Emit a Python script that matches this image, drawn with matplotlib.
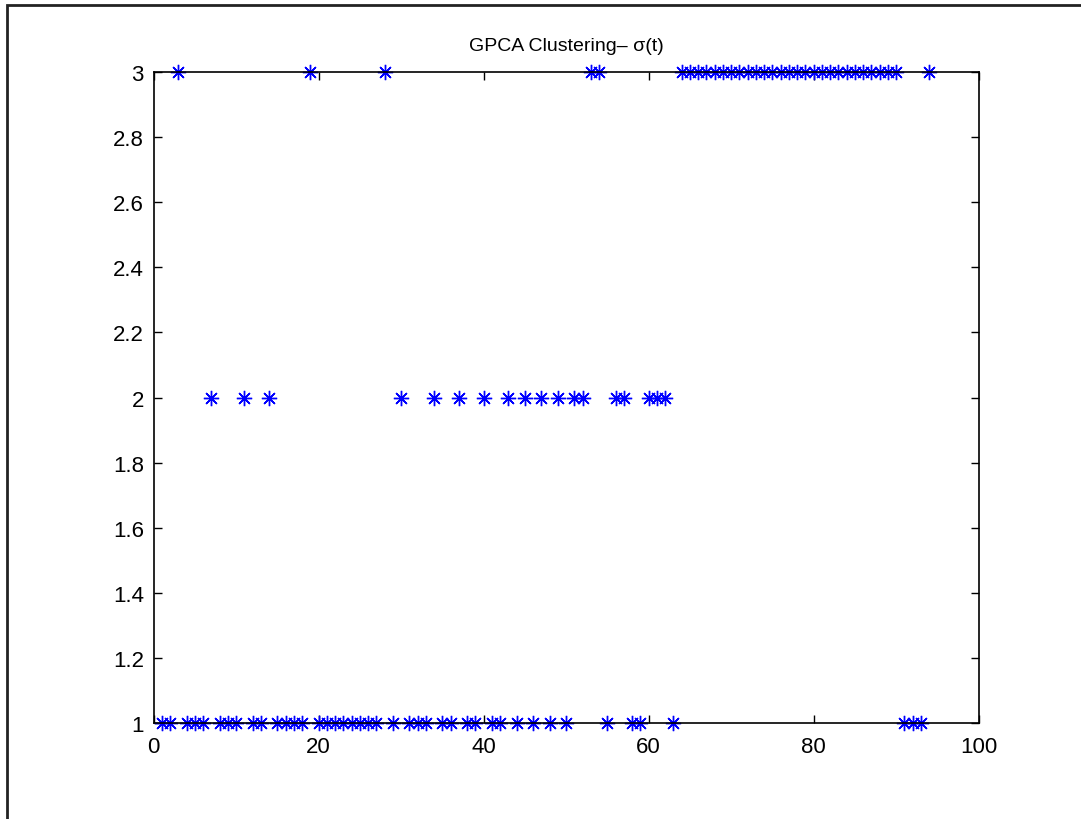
import numpy as np
import matplotlib
matplotlib.use("Agg")
import matplotlib.pyplot as plt
from matplotlib.patches import Rectangle

# cluster label sigma(t) for each sample t = 1..94
sample_idx = list(range(1, 95))
sigma = [1, 1, 3, 1, 1, 1, 2, 1, 1, 1,
         2, 1, 1, 2, 1, 1, 1, 1, 3, 1,
         1, 1, 1, 1, 1, 1, 1, 3, 1, 2,
         1, 1, 1, 2, 1, 1, 2, 1, 1, 2,
         1, 1, 2, 1, 2, 1, 2, 1, 2, 1,
         2, 2, 3, 3, 1, 2, 2, 1, 1, 2,
         2, 2, 1, 3, 3, 3, 3, 3, 3, 3,
         3, 3, 3, 3, 3, 3, 3, 3, 3, 3,
         3, 3, 3, 3, 3, 3, 3, 3, 3, 3,
         1, 1, 1, 3]

x_ticks = [0, 20, 40, 60, 80, 100]
y_ticks = [1, 1.2, 1.4, 1.6, 1.8, 2, 2.2, 2.4, 2.6, 2.8, 3]
y_tick_labels = ["1", "1.2", "1.4", "1.6", "1.8", "2", "2.2", "2.4", "2.6", "2.8", "3"]

plt.rcParams["font.family"] = ["Liberation Sans", "DejaVu Sans"]

fig = plt.figure(figsize=(10.81, 8.2), dpi=100)
ax = fig.add_axes([0.142, 0.117, 0.7634, 0.794])

# MATLAB-style asterisk (plus + cross)
ax.plot(sample_idx, sigma, linestyle="none", marker=(8, 2, 0), color=(0, 0, 1),
        markersize=11, markeredgewidth=1.0, clip_on=False)

ax.set_xlim(0, 100)
ax.set_ylim(1, 3)
ax.set_xticks(x_ticks)
ax.set_xticklabels([str(v) for v in x_ticks])
ax.set_yticks(y_ticks)
ax.set_yticklabels(y_tick_labels)
ax.tick_params(direction="in", length=6, width=1, top=True, right=True,
               labelsize=16, colors="black")
ax.tick_params(axis="x", pad=9)
ax.tick_params(axis="y", pad=7)
for sp in ax.spines.values():
    sp.set_linewidth(1.2)

ax.set_title("GPCA Clustering\u2013 \u03c3(t)", fontsize=14, pad=16)

# outer frame of the exported figure (left/top edges visible)
fig.patches.append(Rectangle((7 / 1081, -0.1), 1.2, 1 - 6 / 820 + 0.1,
                             transform=fig.transFigure, fill=False,
                             edgecolor="#222222", linewidth=2))

fig.savefig("out.png", dpi=100)
